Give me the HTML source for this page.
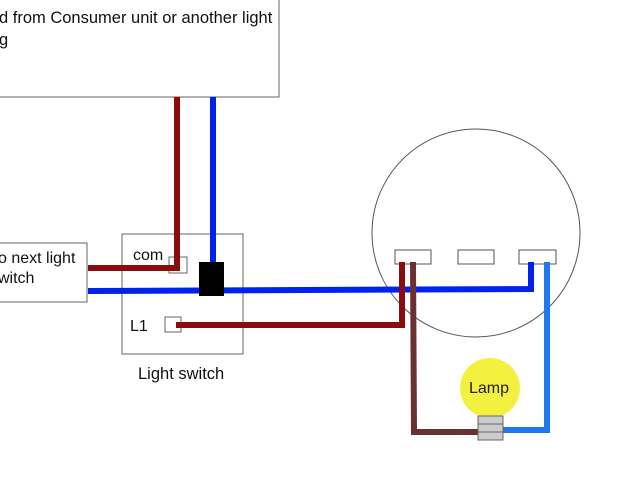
<html><body style="margin:0;width:640px;height:480px;background:#fff;overflow:hidden;font-family:'Liberation Sans',sans-serif">
<svg width="640" height="480" xmlns="http://www.w3.org/2000/svg" font-family="Liberation Sans, sans-serif">
<rect x="-2" y="-2" width="281" height="99" fill="#fff" stroke="#666"/>
<text x="-1" y="23" font-size="16.5" fill="#111">d from Consumer unit or another light</text>
<text x="-1" y="45" font-size="16.5" fill="#111">g</text>
<rect x="-2" y="243" width="89" height="59" fill="#fff" stroke="#666"/>
<text x="-2" y="263" font-size="16" fill="#111">o next light</text>
<text x="-2" y="283" font-size="16" fill="#111">witch</text>
<rect x="122" y="234" width="121" height="120" fill="#fff" stroke="#666"/>
<text x="133" y="260" font-size="16" fill="#111">com</text>
<text x="130" y="331" font-size="16" fill="#111">L1</text>
<text x="138" y="379" font-size="16.5" fill="#111">Light switch</text>
<rect x="169" y="257" width="18" height="16" fill="#fff" stroke="#666"/>
<rect x="165" y="317" width="16" height="15" fill="#fff" stroke="#666"/>
<circle cx="476" cy="233" r="104" fill="#fff" stroke="#555"/>
<rect x="395" y="250" width="36" height="14" fill="#fff" stroke="#555"/>
<rect x="458" y="250" width="36" height="14" fill="#fff" stroke="#555"/>
<rect x="519" y="250" width="37" height="14" fill="#fff" stroke="#555"/>
<g fill="none" stroke-width="6">
<polyline points="177,97 177,268 88,268" stroke="#8b0c0c"/>
<polyline points="213,97 213,280" stroke="#0022ee"/>
<polyline points="88,291 531,289 531,262" stroke="#0022ee"/>
<polyline points="176,325 402,325 402,262" stroke="#8b0c0c"/>
<polyline points="413,262 414,432 478,432" stroke="#6b3030"/>
<polyline points="547,262 547,430 503,430" stroke="#1e78ee"/>
</g>
<rect x="199" y="262" width="25" height="34" fill="#000"/>
<circle cx="490" cy="388" r="30" fill="#f4f040"/>
<text x="489" y="393" font-size="16" text-anchor="middle" fill="#222">Lamp</text>
<rect x="478" y="416" width="25" height="24" fill="#ccc" stroke="#666"/>
<line x1="478" y1="424" x2="503" y2="424" stroke="#666"/>
<line x1="478" y1="432" x2="503" y2="432" stroke="#666"/>
</svg></body></html>
